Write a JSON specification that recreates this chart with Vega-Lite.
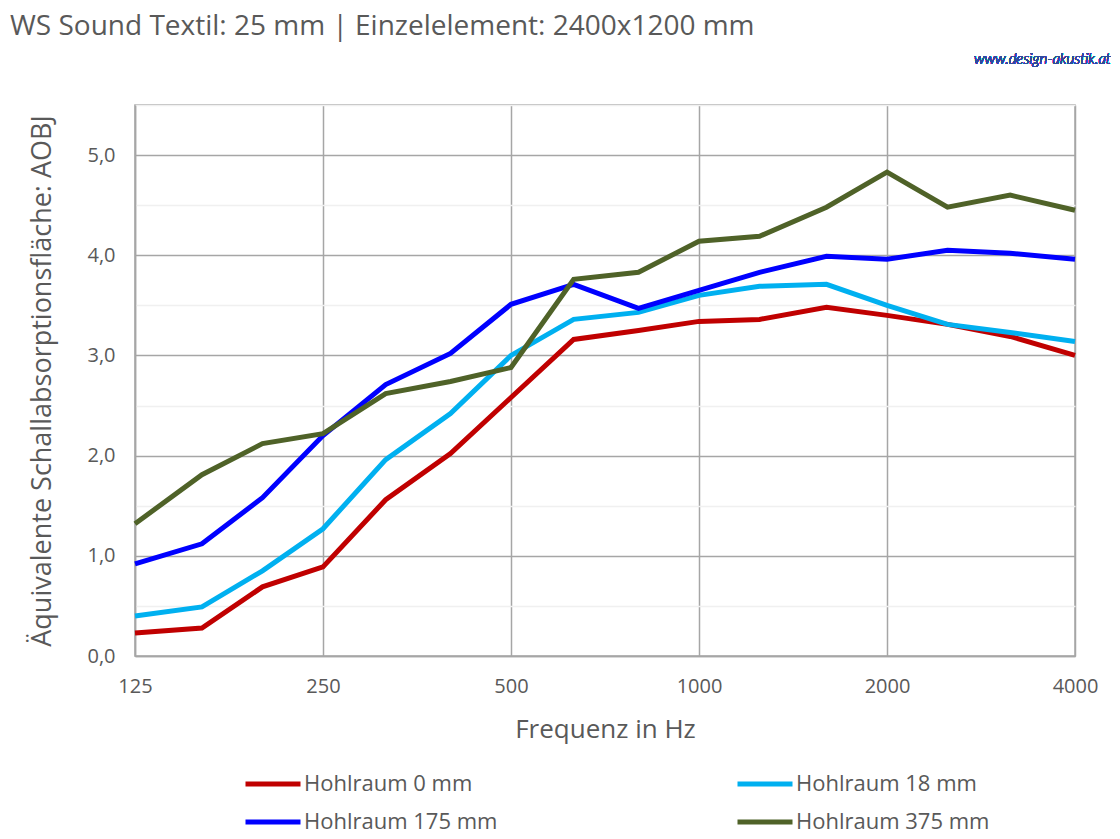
{
  "$schema": "https://vega.github.io/schema/vega-lite/v6.json",
  "autosize": "none",
  "width": 940,
  "height": 551,
  "padding": {"left": 135, "top": 105, "right": 45, "bottom": 183},
  "background": "white",
  "title": {
    "text": "WS Sound Textil: 25 mm | Einzelelement: 2400x1200 mm",
    "anchor": "start",
    "frame": "group",
    "dx": -125,
    "offset": 11,
    "font": "Open Sans",
    "fontSize": 28,
    "fontWeight": "normal",
    "color": "#595959"
  },
  "config": {
    "view": {"stroke": "#a6a6a6", "strokeWidth": 1.5},
    "font": "Open Sans",
    "axis": {
      "labelFont": "Open Sans",
      "titleFont": "Open Sans",
      "labelColor": "#595959",
      "titleColor": "#595959",
      "titleFontWeight": "normal",
      "domainColor": "#a6a6a6",
      "ticks": false,
      "labelFlush": false
    }
  },
  "data": {
    "values": [
      {"f": 125, "a": 0.23, "s": "Hohlraum 0 mm"},
      {"f": 160, "a": 0.28, "s": "Hohlraum 0 mm"},
      {"f": 200, "a": 0.69, "s": "Hohlraum 0 mm"},
      {"f": 250, "a": 0.89, "s": "Hohlraum 0 mm"},
      {"f": 315, "a": 1.56, "s": "Hohlraum 0 mm"},
      {"f": 400, "a": 2.02, "s": "Hohlraum 0 mm"},
      {"f": 500, "a": 2.58, "s": "Hohlraum 0 mm"},
      {"f": 630, "a": 3.16, "s": "Hohlraum 0 mm"},
      {"f": 800, "a": 3.25, "s": "Hohlraum 0 mm"},
      {"f": 1000, "a": 3.34, "s": "Hohlraum 0 mm"},
      {"f": 1250, "a": 3.36, "s": "Hohlraum 0 mm"},
      {"f": 1600, "a": 3.48, "s": "Hohlraum 0 mm"},
      {"f": 2000, "a": 3.40, "s": "Hohlraum 0 mm"},
      {"f": 2500, "a": 3.31, "s": "Hohlraum 0 mm"},
      {"f": 3150, "a": 3.19, "s": "Hohlraum 0 mm"},
      {"f": 4000, "a": 3.00, "s": "Hohlraum 0 mm"},
      {"f": 125, "a": 0.40, "s": "Hohlraum 18 mm"},
      {"f": 160, "a": 0.49, "s": "Hohlraum 18 mm"},
      {"f": 200, "a": 0.85, "s": "Hohlraum 18 mm"},
      {"f": 250, "a": 1.27, "s": "Hohlraum 18 mm"},
      {"f": 315, "a": 1.96, "s": "Hohlraum 18 mm"},
      {"f": 400, "a": 2.42, "s": "Hohlraum 18 mm"},
      {"f": 500, "a": 3.00, "s": "Hohlraum 18 mm"},
      {"f": 630, "a": 3.36, "s": "Hohlraum 18 mm"},
      {"f": 800, "a": 3.43, "s": "Hohlraum 18 mm"},
      {"f": 1000, "a": 3.60, "s": "Hohlraum 18 mm"},
      {"f": 1250, "a": 3.69, "s": "Hohlraum 18 mm"},
      {"f": 1600, "a": 3.71, "s": "Hohlraum 18 mm"},
      {"f": 2000, "a": 3.50, "s": "Hohlraum 18 mm"},
      {"f": 2500, "a": 3.31, "s": "Hohlraum 18 mm"},
      {"f": 3150, "a": 3.23, "s": "Hohlraum 18 mm"},
      {"f": 4000, "a": 3.14, "s": "Hohlraum 18 mm"},
      {"f": 125, "a": 0.92, "s": "Hohlraum 175 mm"},
      {"f": 160, "a": 1.12, "s": "Hohlraum 175 mm"},
      {"f": 200, "a": 1.58, "s": "Hohlraum 175 mm"},
      {"f": 250, "a": 2.20, "s": "Hohlraum 175 mm"},
      {"f": 315, "a": 2.71, "s": "Hohlraum 175 mm"},
      {"f": 400, "a": 3.02, "s": "Hohlraum 175 mm"},
      {"f": 500, "a": 3.51, "s": "Hohlraum 175 mm"},
      {"f": 630, "a": 3.71, "s": "Hohlraum 175 mm"},
      {"f": 800, "a": 3.47, "s": "Hohlraum 175 mm"},
      {"f": 1000, "a": 3.65, "s": "Hohlraum 175 mm"},
      {"f": 1250, "a": 3.83, "s": "Hohlraum 175 mm"},
      {"f": 1600, "a": 3.99, "s": "Hohlraum 175 mm"},
      {"f": 2000, "a": 3.96, "s": "Hohlraum 175 mm"},
      {"f": 2500, "a": 4.05, "s": "Hohlraum 175 mm"},
      {"f": 3150, "a": 4.02, "s": "Hohlraum 175 mm"},
      {"f": 4000, "a": 3.96, "s": "Hohlraum 175 mm"},
      {"f": 125, "a": 1.32, "s": "Hohlraum 375 mm"},
      {"f": 160, "a": 1.81, "s": "Hohlraum 375 mm"},
      {"f": 200, "a": 2.12, "s": "Hohlraum 375 mm"},
      {"f": 250, "a": 2.22, "s": "Hohlraum 375 mm"},
      {"f": 315, "a": 2.62, "s": "Hohlraum 375 mm"},
      {"f": 400, "a": 2.74, "s": "Hohlraum 375 mm"},
      {"f": 500, "a": 2.88, "s": "Hohlraum 375 mm"},
      {"f": 630, "a": 3.76, "s": "Hohlraum 375 mm"},
      {"f": 800, "a": 3.83, "s": "Hohlraum 375 mm"},
      {"f": 1000, "a": 4.14, "s": "Hohlraum 375 mm"},
      {"f": 1250, "a": 4.19, "s": "Hohlraum 375 mm"},
      {"f": 1600, "a": 4.48, "s": "Hohlraum 375 mm"},
      {"f": 2000, "a": 4.83, "s": "Hohlraum 375 mm"},
      {"f": 2500, "a": 4.48, "s": "Hohlraum 375 mm"},
      {"f": 3150, "a": 4.60, "s": "Hohlraum 375 mm"},
      {"f": 4000, "a": 4.45, "s": "Hohlraum 375 mm"}
    ]
  },
  "layer": [
    {
      "mark": {"type": "line", "strokeWidth": 5, "strokeCap": "butt", "strokeJoin": "miter"},
      "encoding": {
        "x": {
          "field": "f",
          "type": "quantitative",
          "scale": {"type": "log", "base": 2, "domain": [125, 4000], "nice": false},
          "axis": {
            "values": [125, 250, 500, 1000, 2000, 4000],
            "format": "d",
            "title": "Frequenz in Hz",
            "titleFontSize": 26,
            "titlePadding": 20,
            "labelFontSize": 20,
            "labelPadding": 20,
            "gridColor": "#a6a6a6",
            "gridWidth": 1.5,
            "domainWidth": 1.5
          }
        },
        "y": {
          "field": "a",
          "type": "quantitative",
          "scale": {"domain": [0, 5.5], "nice": false},
          "axis": {
            "values": [0, 0.5, 1, 1.5, 2, 2.5, 3, 3.5, 4, 4.5, 5, 5.5],
            "labelExpr": "datum.value % 1 === 0 ? replace(format(datum.value, '.1f'), '.', ',') : ''",
            "title": "Äquivalente Schallabsorptionsfläche: AOBJ",
            "titleFontSize": 27,
            "titlePadding": 30,
            "labelFontSize": 20,
            "labelPadding": 20,
            "gridColor": {"condition": {"test": "datum.value % 1 !== 0", "value": "#f0f0f0"}, "value": "#a6a6a6"},
            "gridWidth": 1.5,
            "domainWidth": 1.5
          }
        },
        "color": {
          "field": "s",
          "type": "nominal",
          "sort": ["Hohlraum 0 mm", "Hohlraum 18 mm", "Hohlraum 175 mm", "Hohlraum 375 mm"],
          "scale": {
            "domain": ["Hohlraum 0 mm", "Hohlraum 18 mm", "Hohlraum 175 mm", "Hohlraum 375 mm"],
            "range": ["#C00000", "#00B0F0", "#0000FF", "#4F6228"]
          },
          "legend": {
            "title": null,
            "orient": "none",
            "legendX": 108,
            "legendY": 660,
            "direction": "horizontal",
            "columns": 2,
            "columnPadding": 237,
            "rowPadding": 0,
            "clipHeight": 38,
            "symbolType": "stroke",
            "symbolSize": 3025,
            "symbolStrokeWidth": 5,
            "labelFont": "Open Sans",
            "labelFontSize": 22,
            "labelColor": "#595959",
            "labelOffset": 1,
            "labelLimit": 400
          }
        }
      }
    },
    {
      "mark": {
        "type": "text",
        "text": "www.design-akustik.at",
        "align": "right",
        "baseline": "middle",
        "dx": 36,
        "dy": -46,
        "font": "Lato",
        "fontStyle": "italic",
        "fontWeight": 300,
        "fontSize": 15,
        "color": "#2E4A9E"
      },
      "encoding": {
        "x": {"datum": 4000, "type": "quantitative"},
        "y": {"datum": 5.5, "type": "quantitative"}
      }
    }
  ]
}
